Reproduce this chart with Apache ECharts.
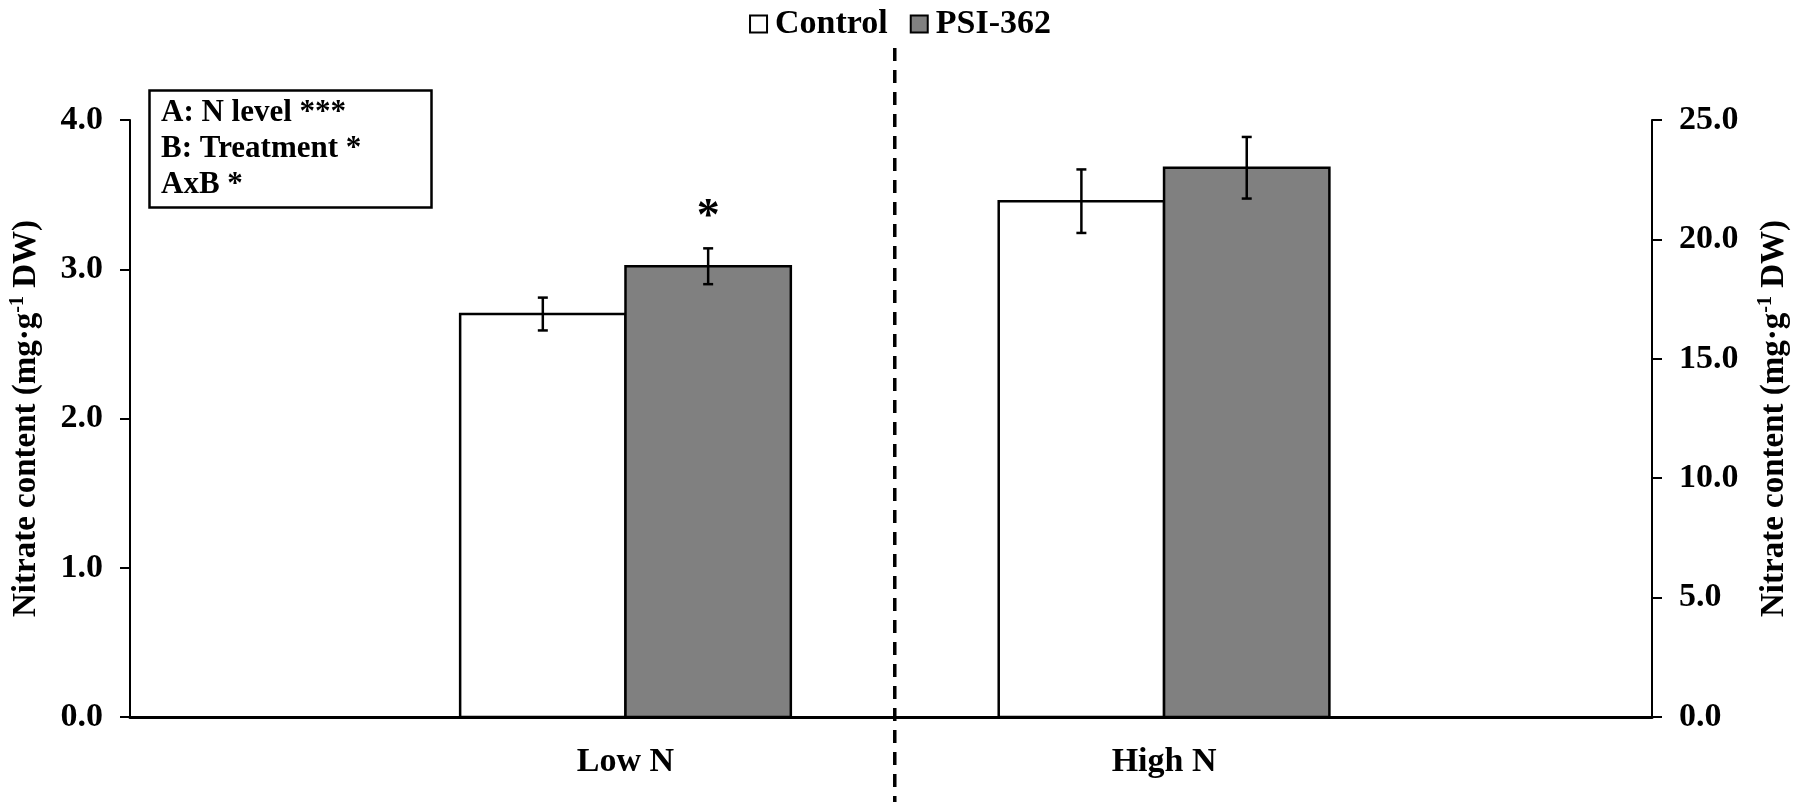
<!DOCTYPE html>
<html lang="en">
  <head>
    <meta charset="utf-8">
    <title>Nitrate content</title>
    <style>
      html, body { margin: 0; padding: 0; background: #fff; }
      #main { width: 1800px; height: 802px; }
    </style>
  </head>
  <body>
    <div id="main"></div>
    <script src="https://cdn.jsdelivr.net/npm/echarts@6/dist/echarts.min.js"></script>
    <script>
      // data
      var groups = ['Low N', 'High N'];          // Low N -> left axis, High N -> right axis
      var treatments = ['Control', 'PSI-362'];
      var controlMean = [2.70, 21.6];
      var controlErr = [0.11, 1.33];
      var psiMean = [3.02, 23.0];
      var psiErr = [0.12, 1.29];
      var psiSig = ['*', ''];
      var leftMax = 4, leftStep = 1;
      var rightMax = 25, rightStep = 5;
      var notes = ['A: N level ***', 'B: Treatment *', 'AxB *'];
      var separatorAt = 1.5;   // between the two groups

      var FONT = 'Liberation Serif';
      var BAR_W = 0.307;       // bar width in x units
      var fills = { 'Control': '#ffffff', 'PSI-362': '#808080' };

      var myChart = echarts.init(document.getElementById('main'));

      function barRender(side, fill, sig) {
        return function (params, api) {
          var x = api.value(0), v = api.value(1), e = api.value(2), gi = api.value(3);
          var base = api.coord([x, 0]);
          var top = api.coord([x, v]);
          var w = api.size([BAR_W, 0])[0];
          var x0 = side < 0 ? base[0] - w : base[0];
          var cx = x0 + w / 2;
          var hi = api.coord([x, v + e])[1];
          var lo = api.coord([x, v - e])[1];
          var black = { stroke: '#000', lineWidth: 2.5 };
          var kids = [
            { type: 'rect', shape: { x: x0, y: top[1], width: w, height: base[1] - top[1] },
              style: { fill: fill, stroke: '#000', lineWidth: 2.5 } },
            { type: 'line', shape: { x1: cx, y1: hi, x2: cx, y2: lo }, style: black },
            { type: 'line', shape: { x1: cx - 5, y1: hi, x2: cx + 5, y2: hi }, style: black },
            { type: 'line', shape: { x1: cx - 5, y1: lo, x2: cx + 5, y2: lo }, style: black }
          ];
          if (sig && sig[gi]) {
            kids.push({ type: 'text', style: { x: cx, y: hi - 30, text: sig[gi], fill: '#000',
              font: 'bold 46px "' + FONT + '"', align: 'center', verticalAlign: 'middle' } });
          }
          return { type: 'group', children: kids };
        };
      }

      var series = [];
      groups.forEach(function (g, i) {
        series.push({
          name: 'Control', type: 'custom', xAxisIndex: 0, yAxisIndex: i,
          itemStyle: { color: fills['Control'] },
          renderItem: barRender(-1, fills['Control'], null),
          data: [[i + 1, controlMean[i], controlErr[i], i]]
        });
        series.push({
          name: 'PSI-362', type: 'custom', xAxisIndex: 0, yAxisIndex: i,
          itemStyle: { color: fills['PSI-362'] },
          renderItem: barRender(1, fills['PSI-362'], psiSig),
          data: [[i + 1, psiMean[i], psiErr[i], i]]
        });
      });

      // dashed separator between Low N and High N
      series.push({
        type: 'custom', xAxisIndex: 0, yAxisIndex: 0, clip: false, silent: true,
        renderItem: function (params, api) {
          var x = api.coord([api.value(0), 0])[0];
          return { type: 'line', shape: { x1: x, y1: 48, x2: x, y2: api.getHeight() },
            style: { stroke: '#000', lineWidth: 3.5, lineDash: [13, 9] } };
        },
        data: [[separatorAt]]
      });

      var nameRich = {
        sup: { fontFamily: FONT, fontWeight: 'bold', fontSize: 20, verticalAlign: 'top', lineHeight: 36 }
      };
      var axisName = 'Nitrate content (mg·g{sup|-1} DW)';

      var option = {
        backgroundColor: '#fff',
        animation: false,
        textStyle: { fontFamily: FONT, fontWeight: 'bold', color: '#000' },
        legend: {
          top: 2, left: 'center',
          itemWidth: 17, itemHeight: 17, itemGap: 22,
          textStyle: { fontFamily: FONT, fontWeight: 'bold', fontSize: 34, color: '#000', padding: [0, 0, 0, 3] },
          data: treatments.map(function (t) {
            return { name: t, icon: 'rect', itemStyle: { color: fills[t], borderColor: '#000', borderWidth: 2 } };
          })
        },
        title: {
          left: 149, top: 90,
          text: notes.join('\n'),
          borderColor: '#000', borderWidth: 2.5,
          padding: [5, 70, 5, 12],
          textStyle: { fontFamily: FONT, fontWeight: 'bold', fontSize: 31, lineHeight: 36, color: '#000' }
        },
        grid: { left: 121, right: 140, top: 120, bottom: 85, containLabel: false },
        xAxis: {
          type: 'value', min: 0.08, max: 2.906,
          splitLine: { show: false },
          axisTick: { show: false },
          axisLine: { show: true, onZero: false, lineStyle: { color: '#000', width: 3 } },
          axisLabel: {
            customValues: [1, 2],
            formatter: function (v) { return groups[Math.round(v) - 1]; },
            margin: 28, fontFamily: FONT, fontWeight: 'bold', fontSize: 34, color: '#000'
          }
        },
        yAxis: [
          {
            type: 'value', position: 'left', min: 0, max: leftMax, interval: leftStep,
            splitLine: { show: false },
            axisLine: { show: true, lineStyle: { color: '#000', width: 2 } },
            axisTick: { show: true, length: 10, lineStyle: { color: '#000', width: 2 } },
            axisLabel: { formatter: function (v) { return v.toFixed(1); }, margin: 27,
              fontFamily: FONT, fontWeight: 'bold', fontSize: 34, color: '#000' },
            name: axisName, nameLocation: 'middle', nameRotate: 90, nameGap: 86,
            nameTextStyle: { fontFamily: FONT, fontWeight: 'bold', fontSize: 33, color: '#000', lineHeight: 36, rich: nameRich }
          },
          {
            type: 'value', position: 'right', min: 0, max: rightMax, interval: rightStep,
            splitLine: { show: false },
            axisLine: { show: true, lineStyle: { color: '#000', width: 2 } },
            axisTick: { show: true, length: 10, lineStyle: { color: '#000', width: 2 } },
            axisLabel: { formatter: function (v) { return v.toFixed(1); }, margin: 27,
              fontFamily: FONT, fontWeight: 'bold', fontSize: 34, color: '#000' },
            name: axisName, nameLocation: 'middle', nameRotate: 90, nameGap: 104,
            nameTextStyle: { fontFamily: FONT, fontWeight: 'bold', fontSize: 33, color: '#000', lineHeight: 36, rich: nameRich }
          }
        ],
        series: series
      };

      myChart.setOption(option);
    </script>
  </body>
</html>
